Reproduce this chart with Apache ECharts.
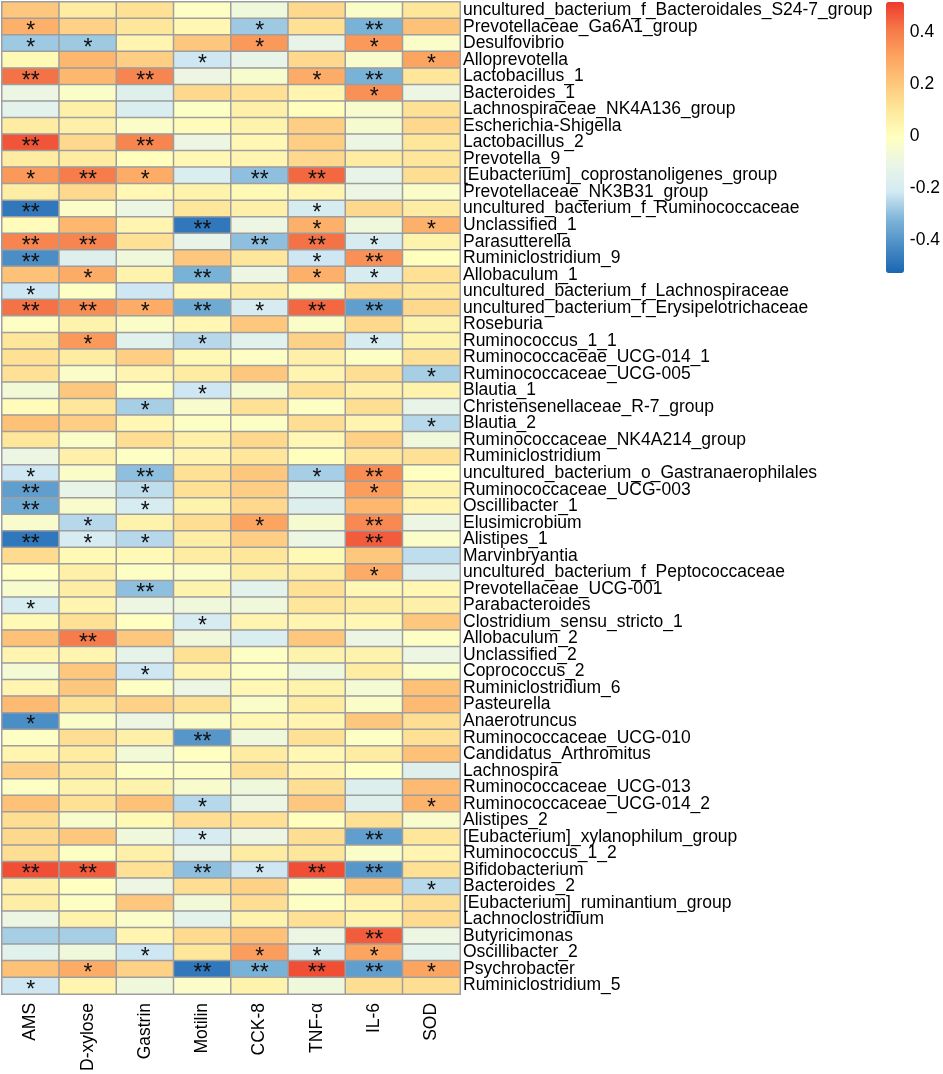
<!DOCTYPE html>
<html>
<head>
<meta charset="utf-8">
<script src="https://cdn.jsdelivr.net/npm/echarts@6/dist/echarts.min.js"></script>
<style>
  html, body { margin: 0; padding: 0; background: #fff; }
  .heat { width: 943px; height: 1074px; }
</style>
</head>
<body>
<div class="heat"></div>
<script>
// column labels (clinical indexes)
let indexes = ['AMS', 'D-xylose', 'Gastrin', 'Motilin', 'CCK-8', 'TNF-α', 'IL-6', 'SOD']

// row labels (genera), top to bottom
let taxa = [
  'uncultured_bacterium_f_Bacteroidales_S24-7_group', 'Prevotellaceae_Ga6A1_group', 'Desulfovibrio', 'Alloprevotella',
  'Lactobacillus_1', 'Bacteroides_1', 'Lachnospiraceae_NK4A136_group', 'Escherichia-Shigella', 'Lactobacillus_2',
  'Prevotella_9', '[Eubacterium]_coprostanoligenes_group', 'Prevotellaceae_NK3B31_group',
  'uncultured_bacterium_f_Ruminococcaceae', 'Unclassified_1', 'Parasutterella', 'Ruminiclostridium_9', 'Allobaculum_1',
  'uncultured_bacterium_f_Lachnospiraceae', 'uncultured_bacterium_f_Erysipelotrichaceae', 'Roseburia', 'Ruminococcus_1_1',
  'Ruminococcaceae_UCG-014_1', 'Ruminococcaceae_UCG-005', 'Blautia_1', 'Christensenellaceae_R-7_group', 'Blautia_2',
  'Ruminococcaceae_NK4A214_group', 'Ruminiclostridium', 'uncultured_bacterium_o_Gastranaerophilales',
  'Ruminococcaceae_UCG-003', 'Oscillibacter_1', 'Elusimicrobium', 'Alistipes_1', 'Marvinbryantia',
  'uncultured_bacterium_f_Peptococcaceae', 'Prevotellaceae_UCG-001', 'Parabacteroides', 'Clostridium_sensu_stricto_1',
  'Allobaculum_2', 'Unclassified_2', 'Coprococcus_2', 'Ruminiclostridium_6', 'Pasteurella', 'Anaerotruncus',
  'Ruminococcaceae_UCG-010', 'Candidatus_Arthromitus', 'Lachnospira', 'Ruminococcaceae_UCG-013',
  'Ruminococcaceae_UCG-014_2', 'Alistipes_2', '[Eubacterium]_xylanophilum_group', 'Ruminococcus_1_2', 'Bifidobacterium',
  'Bacteroides_2', '[Eubacterium]_ruminantium_group', 'Lachnoclostridium', 'Butyricimonas', 'Oscillibacter_2',
  'Psychrobacter', 'Ruminiclostridium_5'
]

// correlation per index column (same order as taxa)
let ams = [0.2, 0.27, -0.28, 0.02, 0.42, -0.1, -0.14, 0.08, 0.47, 0.08,
  0.33, 0.07, -0.48, 0.01, 0.38, -0.42, 0.22, -0.22, 0.42, -0.02,
  0.1, 0.12, 0.12, -0.07, 0.01, 0.22, 0.1, -0.1, -0.22, -0.38,
  -0.35, -0.04, -0.48, 0.14, -0.01, -0.04, -0.2, 0.02, 0.22, 0.04,
  -0.06, 0.04, 0.24, -0.42, -0.02, 0.04, 0.18, -0.02, 0.22, 0.13,
  0.15, 0.13, 0.48, 0.06, 0.07, -0.1, -0.27, -0.15, 0.22, -0.22]
let dXylose = [0.08, 0.17, -0.28, 0.25, 0.25, -0.03, 0.06, 0.06, 0.15, 0.08,
  0.4, 0.15, -0.03, 0.25, 0.38, -0.16, 0.28, -0.02, 0.36, 0.05,
  0.33, 0.08, -0.03, 0.2, 0.1, 0.18, -0.03, 0.06, -0.03, -0.12,
  -0.04, -0.25, -0.2, 0.02, 0.06, 0.07, 0.04, 0.12, 0.4, 0.04,
  0.2, 0.2, 0.12, -0.03, 0.13, 0.08, 0.1, 0.05, 0.12, -0.04,
  0.2, -0.02, 0.46, -0.01, -0.02, 0.05, -0.27, -0.08, 0.28, 0.04]
let gastrin = [0.12, 0.1, 0.04, 0.18, 0.38, -0.16, -0.18, -0.03, 0.38, 0.0,
  0.28, 0.03, -0.1, 0.04, 0.12, -0.08, 0.05, -0.22, 0.28, -0.03,
  -0.15, 0.18, 0.04, -0.02, -0.27, 0.03, 0.13, -0.02, -0.3, -0.24,
  -0.2, 0.05, -0.25, 0.02, -0.02, -0.3, -0.1, -0.01, 0.2, -0.13,
  -0.22, -0.02, 0.17, -0.1, 0.06, -0.07, -0.02, 0.05, 0.22, 0.02,
  -0.08, 0.06, 0.12, -0.1, 0.2, -0.03, 0.04, -0.22, 0.17, -0.08]
let motilin = [-0.02, 0.03, 0.2, -0.22, -0.1, 0.15, -0.02, 0.01, -0.1, 0.03,
  -0.18, 0.05, 0.1, -0.48, -0.12, 0.2, -0.33, 0.03, -0.35, 0.03,
  -0.25, 0.02, 0.08, -0.22, -0.04, -0.02, 0.06, 0.04, 0.12, 0.12,
  0.05, 0.13, 0.07, 0.08, -0.03, 0.05, -0.08, -0.2, -0.08, 0.12,
  0.04, -0.1, 0.12, -0.03, -0.4, -0.01, -0.02, -0.04, -0.25, 0.13,
  -0.2, -0.1, -0.3, 0.13, -0.07, -0.14, 0.14, 0.1, -0.48, -0.03]
let cck8 = [-0.08, -0.28, 0.33, -0.12, -0.04, 0.12, 0.06, 0.05, 0.03, 0.04,
  -0.3, 0.02, 0.06, -0.1, -0.3, 0.1, -0.1, 0.08, -0.2, 0.2,
  -0.15, -0.02, 0.2, -0.05, 0.12, -0.02, 0.15, 0.1, 0.2, 0.18,
  0.15, 0.3, 0.18, 0.1, 0.07, -0.14, -0.08, 0.04, -0.18, -0.02,
  -0.02, 0.03, -0.03, 0.03, -0.08, 0.08, 0.12, -0.08, -0.1, 0.12,
  -0.1, 0.08, -0.22, 0.17, 0.13, 0.05, 0.22, 0.32, -0.33, 0.05]
let tnf = [0.15, 0.12, -0.12, 0.15, 0.28, 0.04, 0.0, 0.18, 0.18, 0.15,
  0.44, 0.04, -0.2, 0.27, 0.42, -0.22, 0.27, -0.03, 0.44, -0.03,
  0.17, 0.06, 0.04, 0.12, -0.02, 0.13, 0.03, 0.0, -0.27, -0.15,
  -0.17, -0.05, -0.1, 0.02, 0.08, 0.12, 0.1, 0.04, 0.2, 0.05,
  -0.08, 0.05, 0.08, 0.04, 0.12, 0.03, 0.04, 0.13, 0.2, 0.0,
  0.13, 0.1, 0.48, -0.02, -0.02, 0.12, -0.1, -0.2, 0.48, -0.08]
let il6 = [-0.03, -0.33, 0.33, -0.04, -0.33, 0.35, -0.04, -0.05, -0.1, 0.08,
  -0.12, -0.1, 0.15, -0.08, -0.2, 0.35, -0.2, 0.14, -0.38, 0.15,
  -0.2, -0.02, 0.13, 0.06, 0.13, 0.04, 0.17, 0.1, 0.36, 0.32,
  0.25, 0.37, 0.46, 0.2, 0.28, 0.03, 0.08, 0.03, -0.1, 0.05,
  0.08, -0.06, -0.03, 0.2, -0.02, 0.08, -0.01, -0.17, -0.16, 0.12,
  -0.38, -0.03, -0.4, 0.2, 0.04, 0.05, 0.46, 0.3, -0.38, 0.13]
let sod = [0.1, 0.22, -0.03, 0.3, 0.1, -0.1, 0.12, 0.15, 0.1, 0.1,
  0.13, -0.03, 0.08, 0.27, 0.05, 0.0, 0.12, 0.1, 0.15, 0.05,
  0.05, 0.12, -0.27, 0.05, -0.12, -0.25, -0.08, 0.12, -0.01, 0.05,
  0.04, -0.1, -0.03, -0.24, -0.16, 0.03, 0.06, 0.2, -0.02, -0.1,
  -0.03, 0.22, 0.24, 0.13, 0.12, 0.22, -0.16, 0.24, 0.26, -0.04,
  0.1, 0.04, 0.12, -0.25, 0.13, 0.14, -0.1, -0.14, 0.3, 0.13]

// significance marks: 0 none, 1 = *, 2 = **
let amsSig = [0, 1, 1, 0, 2, 0, 0, 0, 2, 0, 1, 0, 2, 0, 2, 2, 0, 1, 2, 0,
  0, 0, 0, 0, 0, 0, 0, 0, 1, 2, 2, 0, 2, 0, 0, 0, 1, 0, 0, 0,
  0, 0, 0, 1, 0, 0, 0, 0, 0, 0, 0, 0, 2, 0, 0, 0, 0, 0, 0, 1]
let dXyloseSig = [0, 0, 1, 0, 0, 0, 0, 0, 0, 0, 2, 0, 0, 0, 2, 0, 1, 0, 2, 0,
  1, 0, 0, 0, 0, 0, 0, 0, 0, 0, 0, 1, 1, 0, 0, 0, 0, 0, 2, 0,
  0, 0, 0, 0, 0, 0, 0, 0, 0, 0, 0, 0, 2, 0, 0, 0, 0, 0, 1, 0]
let gastrinSig = [0, 0, 0, 0, 2, 0, 0, 0, 2, 0, 1, 0, 0, 0, 0, 0, 0, 0, 1, 0,
  0, 0, 0, 0, 1, 0, 0, 0, 2, 1, 1, 0, 1, 0, 0, 2, 0, 0, 0, 0,
  1, 0, 0, 0, 0, 0, 0, 0, 0, 0, 0, 0, 0, 0, 0, 0, 0, 1, 0, 0]
let motilinSig = [0, 0, 0, 1, 0, 0, 0, 0, 0, 0, 0, 0, 0, 2, 0, 0, 2, 0, 2, 0,
  1, 0, 0, 1, 0, 0, 0, 0, 0, 0, 0, 0, 0, 0, 0, 0, 0, 1, 0, 0,
  0, 0, 0, 0, 2, 0, 0, 0, 1, 0, 1, 0, 2, 0, 0, 0, 0, 0, 2, 0]
let cck8Sig = [0, 1, 1, 0, 0, 0, 0, 0, 0, 0, 2, 0, 0, 0, 2, 0, 0, 0, 1, 0,
  0, 0, 0, 0, 0, 0, 0, 0, 0, 0, 0, 1, 0, 0, 0, 0, 0, 0, 0, 0,
  0, 0, 0, 0, 0, 0, 0, 0, 0, 0, 0, 0, 1, 0, 0, 0, 0, 1, 2, 0]
let tnfSig = [0, 0, 0, 0, 1, 0, 0, 0, 0, 0, 2, 0, 1, 1, 2, 1, 1, 0, 2, 0,
  0, 0, 0, 0, 0, 0, 0, 0, 1, 0, 0, 0, 0, 0, 0, 0, 0, 0, 0, 0,
  0, 0, 0, 0, 0, 0, 0, 0, 0, 0, 0, 0, 2, 0, 0, 0, 0, 1, 2, 0]
let il6Sig = [0, 2, 1, 0, 2, 1, 0, 0, 0, 0, 0, 0, 0, 0, 1, 2, 1, 0, 2, 0,
  1, 0, 0, 0, 0, 0, 0, 0, 2, 1, 0, 2, 2, 0, 1, 0, 0, 0, 0, 0,
  0, 0, 0, 0, 0, 0, 0, 0, 0, 0, 2, 0, 2, 0, 0, 0, 2, 1, 2, 0]
let sodSig = [0, 0, 0, 1, 0, 0, 0, 0, 0, 0, 0, 0, 0, 1, 0, 0, 0, 0, 0, 0,
  0, 0, 1, 0, 0, 1, 0, 0, 0, 0, 0, 0, 0, 0, 0, 0, 0, 0, 0, 0,
  0, 0, 0, 0, 0, 0, 0, 0, 1, 0, 0, 0, 0, 1, 0, 0, 0, 0, 1, 0]

// colour bar ticks
let barTicks = [-0.4, -0.2, 0, 0.2, 0.4]
let barMin = -0.527
let barMax = 0.515;

(function () {
  let columns = [ams, dXylose, gastrin, motilin, cck8, tnf, il6, sod]
  let marks = [amsSig, dXyloseSig, gastrinSig, motilinSig, cck8Sig, tnfSig, il6Sig, sodSig]
  let stars = ['', '*', '**']
  let data = []
  columns.forEach((col, i) => {
    col.forEach((v, j) => {
      data.push([i, j, v, marks[i][j]])
    })
  })

  let font = '"Liberation Sans", Arial, sans-serif'
  let myChart = echarts.init(document.querySelector('.heat'))
  let option = {
    backgroundColor: '#fff',
    animation: false,
    grid: [
      { left: 2, top: 2, width: 458, height: 995 },
      // holder for the colour bar tick labels
      { left: 886, top: 2, width: 18, height: 271 }
    ],
    xAxis: [
      {
        type: 'category',
        data: indexes,
        axisLine: { show: false },
        axisTick: { show: false },
        axisLabel: { rotate: 90, interval: 0, margin: 9, color: '#000', fontSize: 17.5, fontFamily: font }
      },
      { gridIndex: 1, type: 'value', show: false }
    ],
    yAxis: [
      {
        type: 'category',
        data: taxa,
        inverse: true,
        position: 'right',
        axisLine: { show: false },
        axisTick: { show: false },
        axisLabel: { interval: 0, margin: 3, color: '#000', fontSize: 17.5, fontFamily: font }
      },
      {
        gridIndex: 1,
        type: 'value',
        position: 'right',
        min: barMin,
        max: barMax,
        axisLine: { show: false },
        axisTick: { show: false },
        splitLine: { show: false },
        axisLabel: {
          customValues: barTicks,
          margin: 8,
          color: '#000',
          fontSize: 17.5,
          fontFamily: font,
          formatter: v => String(v)
        }
      }
    ],
    visualMap: {
      type: 'continuous',
      seriesIndex: 0,
      dimension: 2,
      min: barMin,
      max: barMax,
      calculable: false,
      hoverLink: false,
      text: null,
      showLabel: false,
      left: 886,
      top: 2,
      padding: 0,
      itemWidth: 18,
      itemHeight: 271,
      inRange: {
        color: ['#1a66b2', '#4a8dc5', '#7fb6d9', '#d3eaf3', '#eaf5e6', '#ffffbf',
          '#fee89c', '#fdc77c', '#fca35f', '#f57849', '#ee3a2c']
      }
    },
    series: [
      {
        type: 'heatmap',
        data: data,
        itemStyle: { borderColor: '#9e9e9e', borderWidth: 1.5 },
        label: {
          show: true,
          formatter: p => stars[p.data[3]],
          color: '#111',
          fontSize: 23,
          fontFamily: font,
          offset: [0, 5]
        },
        emphasis: { disabled: true }
      }
    ]
  }
  myChart.setOption(option)
})()
</script>
</body>
</html>
